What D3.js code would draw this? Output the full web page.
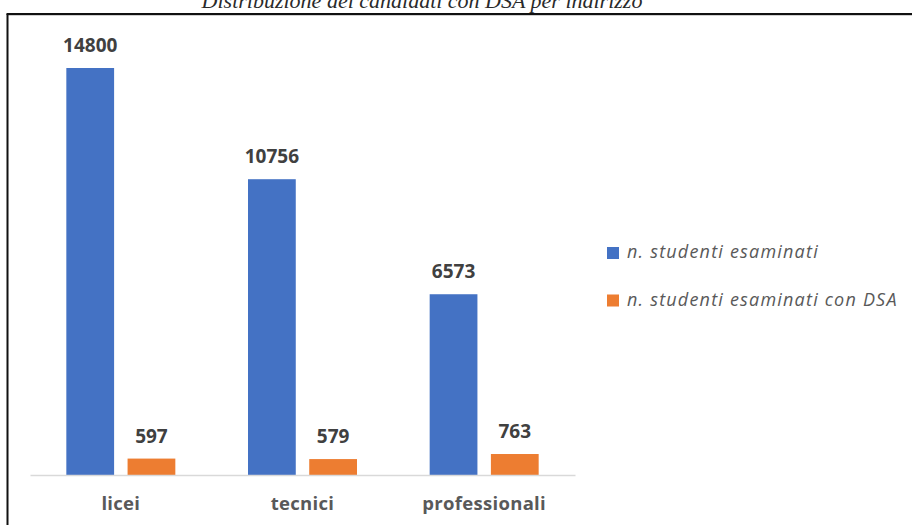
<!DOCTYPE html>
<html>
<head>
<meta charset="utf-8">
<script src="https://cdn.jsdelivr.net/npm/d3@7"></script>
<style>
  html, body { margin: 0; padding: 0; background: #fff; }
  #content { width: 912px; height: 525px; }
</style>
</head>
<body>
<div id="content"></div>
<script>
/* global d3 */

const title = 'Distribuzione dei candidati con DSA per indirizzo';
const categories = ['licei', 'tecnici', 'professionali'];
const seriesNames = ['n. studenti esaminati', 'n. studenti esaminati con DSA'];
const esaminati = [14800, 10756, 6573];
const esaminatiDSA = [597, 579, 763];
const palette = ['#4472C4', '#ED7D31'];

const width = 912;
const height = 525;

const svg = d3.select('#content').append('svg')
  .attr('width', width)
  .attr('height', height)
  .attr('viewBox', [0, 0, width, height]);

// titolo, quasi tutto fuori dal riquadro (come nell'originale)
svg.append('text')
  .attr('x', 422).attr('y', 8)
  .attr('text-anchor', 'middle')
  .style('font-family', '"Liberation Serif", "DejaVu Serif", serif')
  .style('font-style', 'italic')
  .style('font-size', '22px')
  .style('fill', '#2a2a2a')
  .text(title);

// cornice del grafico (tagliata a destra e in basso)
svg.append('rect').attr('x', 0).attr('y', 13).attr('width', width).attr('height', height)
  .attr('fill', '#fff');
svg.append('line').attr('x1', 7).attr('y1', 15.5).attr('x2', width).attr('y2', 15.5)
  .attr('stroke', '#d0d0d0').attr('stroke-width', 1);
svg.append('line').attr('x1', 7.5).attr('y1', 14).attr('x2', 7.5).attr('y2', height)
  .attr('stroke', '#111').attr('stroke-width', 2);
svg.append('line').attr('x1', 6.5).attr('y1', 14).attr('x2', width).attr('y2', 14)
  .attr('stroke', '#111').attr('stroke-width', 2);

// scale
const x0 = d3.scaleBand().domain(categories).range([30, 575]).paddingInner(0.4).paddingOuter(0.2);
const x1 = d3.scaleBand().domain([0, 1]).range([0, x0.bandwidth()]).paddingInner(0.22);
const y = d3.scaleLinear().domain([0, 16000]).range([475, 35]);

const rows = categories.map((c, i) => ({ cat: c, values: [esaminati[i], esaminatiDSA[i]] }));

const groups = svg.append('g').selectAll('g')
  .data(rows)
  .join('g')
  .attr('transform', d => `translate(${x0(d.cat)},0)`);

groups.selectAll('rect')
  .data(d => d.values.map((v, k) => ({ v, k })))
  .join('rect')
  .attr('x', d => x1(d.k))
  .attr('y', d => y(d.v))
  .attr('width', x1.bandwidth())
  .attr('height', d => y(0) - y(d.v))
  .attr('fill', d => palette[d.k]);

groups.selectAll('text.val')
  .data(d => d.values.map((v, k) => ({ v, k })))
  .join('text')
  .attr('class', 'val')
  .attr('x', d => x1(d.k) + x1.bandwidth() / 2)
  .attr('y', d => y(d.v) - 16)
  .attr('text-anchor', 'middle')
  .style('font-family', '"Open Sans", sans-serif')
  .style('font-weight', 'bold')
  .style('font-size', '19px')
  .style('fill', '#404040')
  .text(d => d.v);

// asse x
const xAxis = svg.append('g')
  .attr('transform', `translate(0,${y(0)})`)
  .call(d3.axisBottom(x0).tickSize(0).tickPadding(22));
xAxis.select('.domain').attr('stroke', '#d9d9d9').attr('stroke-width', 1.5);
xAxis.selectAll('text')
  .style('font-family', '"Open Sans", sans-serif')
  .style('font-weight', 'bold')
  .style('font-size', '18.5px')
  .style('letter-spacing', '0.3px')
  .style('fill', '#595959');

// legenda
const legend = svg.append('g').attr('transform', 'translate(607,247)');
const items = legend.selectAll('g')
  .data(seriesNames)
  .join('g')
  .attr('transform', (d, i) => `translate(0,${i * 47.5})`);
items.append('rect').attr('width', 12).attr('height', 12).attr('fill', (d, i) => palette[i]);
items.append('text')
  .attr('x', 20).attr('y', 11)
  .style('font-family', '"Open Sans", sans-serif')
  .style('font-style', 'italic')
  .style('font-size', '18px')
  .style('letter-spacing', '1.2px')
  .style('fill', '#595959')
  .text(d => d);
</script>
</body>
</html>
